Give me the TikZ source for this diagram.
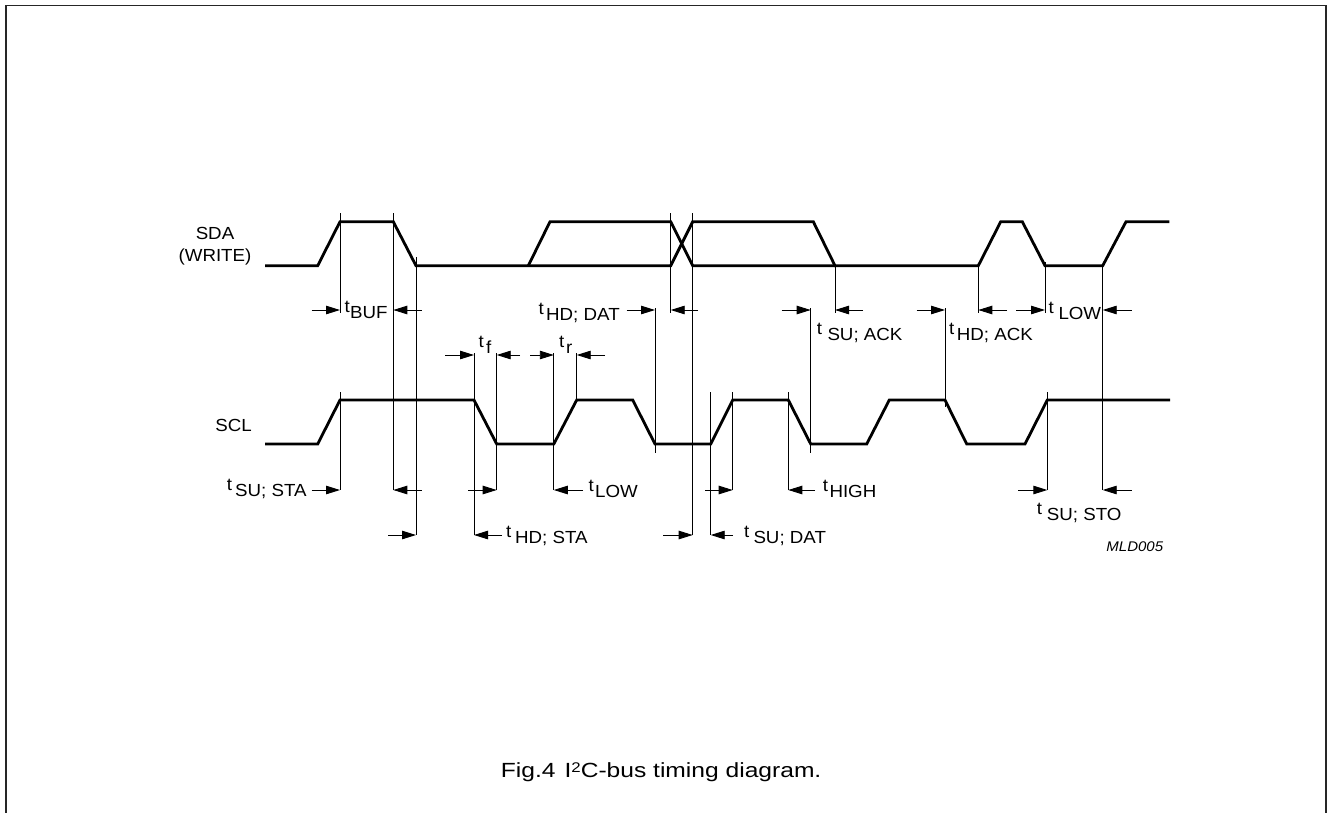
\documentclass[tikz,border=0pt]{standalone}
\usepackage{fontspec}
\setmainfont{Liberation Sans}[FakeStretch=1.07]
\newfontfamily\capfont{Liberation Sans}[FakeStretch=1.2]
\usetikzlibrary{arrows.meta}
\newcommand\lblfont{\fontsize{17.5pt}{20pt}\selectfont}
\newcommand\tlab[5]{\node[lbl] (#1) at (#2,#4) {\makebox[\dimexpr#3pt-#2pt\relax][l]{\raisebox{6pt}{t}}#5};}
\tikzset{
  wave/.style={line width=2.8pt, line join=miter},
  refl/.style={line width=0.9pt},
  dimarrow/.style={line width=0.9pt, -{Triangle[length=14pt,width=8.5pt]}},
  lbl/.style={inner sep=0pt, anchor=base west, font=\lblfont},
}
\begin{document}
\begin{tikzpicture}[x=1pt,y=-1pt]
\useasboundingbox (0,0) rectangle (1328,812);
% frame
\draw[line width=1.6pt, color=black!85] (5.7,820) -- (5.7,5.5) -- (1326,5.5) -- (1326,820);

% signal names
\node[inner sep=0pt, anchor=base, font=\lblfont] (sda) at (215,239) {SDA};
\node[inner sep=0pt, anchor=base, font=\lblfont] (write) at (215,261.5) {(WRITE)};
\node[inner sep=0pt, anchor=base east, font=\lblfont] (scl) at (252,431) {SCL};

% SDA waveform
\draw[wave] (265,265.7) -- (317.7,265.7) -- (340,221.7) -- (393.3,221.7) -- (416,265.7)
  -- (670.7,265.7) -- (692.7,221.7) -- (813.3,221.7) -- (835,265.7) -- (978.3,265.7)
  -- (1000.7,221.7) -- (1022.3,221.7) -- (1045,265.7) -- (1102.7,265.7) -- (1126,221.7) -- (1169.3,221.7);
\draw[wave] (528.3,265.7) -- (550,221.7) -- (670.7,221.7) -- (692.7,265.7) -- (835,265.7);

% SCL waveform
\draw[wave] (265,444) -- (317.7,444) -- (340,400) -- (474,400) -- (496.7,444) -- (553.8,444)
  -- (576.7,400) -- (632.7,400) -- (655,444) -- (710.7,444) -- (732.7,400) -- (788.3,400)
  -- (810.7,444) -- (866.7,444) -- (889.3,400) -- (945,400) -- (966.7,444) -- (1025,444)
  -- (1047.3,400) -- (1170,400);

% reference lines from SDA
\draw[refl] (340,213) -- (340,313);
\draw[refl] (393.3,213) -- (393.3,490);
\draw[refl] (416,257) -- (416,535);
\draw[refl] (670.7,213) -- (670.7,313);
\draw[refl] (692.7,213) -- (692.7,535);
\draw[refl] (835,265) -- (835,313);
\draw[refl] (978.3,265) -- (978.3,313);
\draw[refl] (1045,262) -- (1045,313);
\draw[refl] (1102.7,265) -- (1102.7,490);
% reference lines from SCL
\draw[refl] (340,392) -- (340,490);
\draw[refl] (474,353) -- (474,535);
\draw[refl] (496.7,353) -- (496.7,490);
\draw[refl] (553.8,353) -- (553.8,490);
\draw[refl] (576.7,353) -- (576.7,400);
\draw[refl] (655,308) -- (655,453);
\draw[refl] (710.7,392) -- (710.7,535);
\draw[refl] (732.7,392) -- (732.7,490);
\draw[refl] (788.3,392) -- (788.3,490);
\draw[refl] (810.7,308) -- (810.7,453);
\draw[refl] (945,308) -- (945,407);
\draw[refl] (1047.3,392) -- (1047.3,490);

% dimension arrows, row y=310
\draw[dimarrow] (311.7,310) -- (340,310);
\draw[dimarrow] (421.7,310) -- (393.3,310);
\draw[dimarrow] (626.7,310) -- (655,310);
\draw[dimarrow] (698,310) -- (670.7,310);
\draw[dimarrow] (781.7,310) -- (810.7,310);
\draw[dimarrow] (863,310) -- (835,310);
\draw[dimarrow] (916.7,310) -- (945,310);
\draw[dimarrow] (1007,310) -- (978.3,310);
\draw[dimarrow] (1016,310) -- (1045,310);
\draw[dimarrow] (1131.7,310) -- (1102.7,310);
% row y=355
\draw[dimarrow] (445,355) -- (474,355);
\draw[dimarrow] (520,355) -- (496.7,355);
\draw[dimarrow] (530,355) -- (553.8,355);
\draw[dimarrow] (605,355) -- (576.7,355);
% row y=490
\draw[dimarrow] (311.7,490) -- (340,490);
\draw[dimarrow] (421.7,490) -- (393.3,490);
\draw[dimarrow] (468,490) -- (496.7,490);
\draw[dimarrow] (583,490) -- (553.8,490);
\draw[dimarrow] (705,490) -- (732.7,490);
\draw[dimarrow] (815,490) -- (788.3,490);
\draw[dimarrow] (1018,490) -- (1047.3,490);
\draw[dimarrow] (1131.7,490) -- (1102.7,490);
% row y=535
\draw[dimarrow] (388,535) -- (416,535);
\draw[dimarrow] (502,535) -- (474,535);
\draw[dimarrow] (663,535) -- (692.7,535);
\draw[dimarrow] (733,535) -- (710.7,535);

% timing labels
\tlab{tbuf}{344.5}{350}{318.3}{BUF}
\tlab{thddat}{538.3}{546}{320}{HD; DAT}
\tlab{tf}{478.3}{486}{353}{f}
\tlab{tr}{559}{566}{353}{r}
\tlab{tsuack}{816.7}{827.3}{340}{SU; ACK}
\tlab{thdack}{949}{956.7}{340}{HD; ACK}
\tlab{tlowa}{1048.3}{1058.3}{319.3}{LOW}
\tlab{tsusta}{226.7}{235}{496.7}{SU; STA}
\tlab{thdsta}{506}{515}{543.3}{HD; STA}
\tlab{tlowb}{588.3}{595}{497.3}{LOW}
\tlab{tsudat}{744}{753.3}{543.3}{SU; DAT}
\tlab{thigh}{822.7}{829.3}{497}{HIGH}
\tlab{tsusto}{1036.7}{1046.7}{520.7}{SU; STO}

% figure code
\node[inner sep=0pt, anchor=base east, font={\fontsize{14pt}{16pt}\selectfont\itshape}] (mld) at (1163.3,551.7) {MLD005};

% caption
\node[inner sep=0pt, anchor=base west, font={\capfont\fontsize{20.5pt}{24pt}\selectfont}] (cap) at (500.7,777)
  {Fig.4\hspace{9pt}I\raisebox{4.7pt}{\fontsize{14pt}{14pt}\selectfont 2}C-bus timing diagram.};
\end{tikzpicture}
\end{document}
